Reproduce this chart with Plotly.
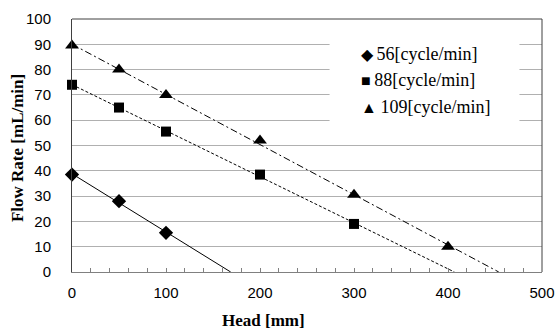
import numpy as np
import plotly.graph_objects as go

# Measured pump performance: head [mm] vs. flow rate [mL/min]
head_56 = [0, 50, 100]
flow_56 = [38.5, 28.0, 15.5]

head_88 = [0, 50, 100, 200, 300]
flow_88 = [74.0, 65.0, 55.5, 38.5, 19.0]

head_109 = [0, 50, 100, 200, 300, 400]
flow_109 = [89.5, 80.0, 70.0, 52.0, 30.5, 10.0]

names = ["56[cycle/min]", "88[cycle/min]", "109[cycle/min]"]
glyphs = ["◆", "■", "▲"]

series = [
    (names[0], head_56, flow_56, "diamond", 11, "solid"),
    (names[1], head_88, flow_88, "square", 10, "3px,2px"),
    (names[2], head_109, flow_109, "triangle-up", 12, "7px,3px,2px,3px"),
]

SERIF = "Liberation Serif, Times New Roman, serif"
SANS = "Liberation Sans, Arial, sans-serif"

fig = go.Figure()

# Linear trend lines, drawn from zero head down to zero flow
for name, x, y, sym, size, dash in series:
    slope, icpt = np.polyfit(x, y, 1)
    x_end = -icpt / slope
    fig.add_trace(go.Scatter(
        x=[0, x_end], y=[icpt, 0], mode="lines",
        line=dict(color="black", width=1, dash=dash),
        showlegend=False, hoverinfo="skip",
    ))

for name, x, y, sym, size, dash in series:
    fig.add_trace(go.Scatter(
        x=x, y=y, mode="markers", name=name,
        marker=dict(symbol=sym, size=size, color="black"),
        cliponaxis=False, showlegend=False,
    ))

fig.update_layout(
    width=558, height=329,
    margin=dict(l=72, r=16, t=19, b=57),
    paper_bgcolor="white", plot_bgcolor="white",
    font=dict(family=SANS, size=15, color="black"),
    showlegend=False,
)

fig.update_xaxes(
    range=[0, 500], dtick=100, tick0=0, automargin=False,
    showgrid=False, zeroline=False,
    showline=True, linecolor="#808080", linewidth=1,
    ticks="inside", ticklen=4, tickcolor="#808080",
    minor=dict(ticks="inside", dtick=20, ticklen=4, tickcolor="#808080", showgrid=False),
    ticklabelstandoff=7,
)

fig.update_yaxes(
    range=[0, 100], dtick=10, tick0=0, automargin=False,
    showgrid=True, gridcolor="#b0b0b0", gridwidth=1.3,
    zeroline=False,
    showline=True, linecolor="#404040", linewidth=1,
    ticks="", ticklabelstandoff=17,
)

# Box the plot area on top and right
fig.add_shape(type="line", xref="paper", yref="paper", x0=0, x1=1, y0=1, y1=1,
              line=dict(color="#404040", width=1))
fig.add_shape(type="line", xref="paper", yref="paper", x0=1, x1=1, y0=0, y1=1,
              line=dict(color="#404040", width=1))

# Legend: white panel over the grid with glyph-marked series names
fig.add_shape(type="rect", xref="paper", yref="paper",
              x0=0.548, x1=0.952, y0=0.56, y1=0.955,
              fillcolor="white", line=dict(width=0), layer="above")
for i, (g, n) in enumerate(zip(glyphs, names)):
    fig.add_annotation(
        xref="paper", yref="paper", x=0.61, y=0.862 - i * 0.105,
        xanchor="left", yanchor="middle", showarrow=False,
        text=f"<span style='font-size:16px'>{g}</span>\u2009{n}",
        font=dict(family=SERIF, size=18, color="black"),
    )

# Axis titles
fig.add_annotation(
    xref="paper", yref="paper", x=0.407, y=-0.19, xanchor="center", yanchor="middle",
    showarrow=False, text="<b>Head [mm]</b>",
    font=dict(family=SERIF, size=17, color="black"),
)
fig.add_annotation(
    xref="paper", yref="paper", x=-0.117, y=0.49, xanchor="center", yanchor="middle",
    showarrow=False, text="<b>Flow Rate [mL/min]</b>", textangle=-90,
    font=dict(family=SERIF, size=17, color="black"),
)

fig.write_html("out.html")
